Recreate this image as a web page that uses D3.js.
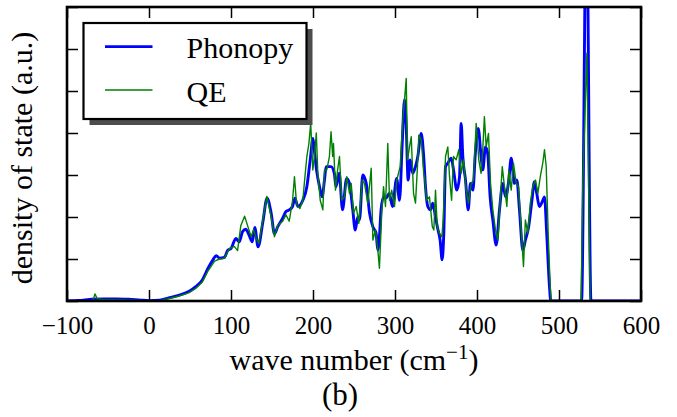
<!DOCTYPE html>
<html>
<head>
<meta charset="utf-8">
<script src="https://cdn.jsdelivr.net/npm/d3@7"></script>
<style>
  html, body { margin: 0; padding: 0; background: #ffffff; }
  svg { display: block; }
  text { font-family: "Liberation Serif", "Times New Roman", serif; fill: #000; }
</style>
</head>
<body>
<svg id="chart" width="677" height="417"></svg>
<script>
// ---- data (wave number in cm^-1, density of state in arbitrary units) ----
const phonopyFreq = [-100,-90,-80,-70,-55,-40,-25,-10,0,13,25,37,49,57,65,72,78,82,86,92,96,100,106,110,114,118,122,126,129,133,139,144,149,153,157,163,167,171,175,178,181.5,187.6,192.5,196.6,200,202,204.6,208,211,214,216,222,226,228,232,236,241,244.5,248.5,251.5,254.6,256.7,260.7,264.9,269,273,277,279,281,283,286,289,293,297,302,305.5,308.8,311.6,313.7,316,318.6,321.6,325,327.8,332,335,337.2,340,343.3,346,349.4,352,355,357.5,359.5,361.6,364.4,368.5,371.7,375.4,378.7,380.7,382.7,386,389.3,392,395,398,401.5,405,407,410.4,413,416,419.3,423.4,427.4,431.5,434.8,438.8,441.7,445.7,448.6,451.8,455.9,459,463,467,470,472.9,476,479.5,482.3,485,488.4,490,527.5,533.5,539,545,600];
const phonopyDos  = [0,0.01,0.02,0.04,0.05,0.05,0.04,0.02,0.01,0.02,0.08,0.14,0.23,0.34,0.5,0.78,0.98,1.08,1.02,1.04,1.21,1.25,1.49,1.41,1.65,1.71,1.57,1.41,1.75,1.29,1.9,2.45,2.09,1.6,1.77,1.97,2.13,2.17,2.25,2.45,2.25,2.4,2.72,3.36,3.87,3.52,3.08,2.72,2.48,2.88,3.2,3.2,3.04,2.72,3.04,2.17,2.92,2.8,2.17,1.69,2.0,1.93,3.0,2.8,2.09,1.77,1.61,1.21,1.53,2.17,2.48,2.45,2.56,2.25,2.92,2.4,3.75,4.79,4.15,2.88,3.36,3.04,3.2,3.44,3.99,3.44,2.72,2.25,2.17,2.33,2.0,1.73,1.45,0.98,1.61,3.2,3.28,3.4,3.08,2.64,2.96,4.23,3.44,2.88,2.17,2.8,2.64,3.52,4.11,3.44,3.12,3.67,3.52,2.48,1.93,1.33,2.17,2.8,2.48,2.88,3.4,2.8,2.88,2.17,1.21,1.45,1.77,2.4,2.84,2.56,2.25,2.36,2.48,1.61,0.34,0,0,9.5,0,0,0];

const qeFreq = [-100,-72,-68,-66,-63,-55,-40,-20,0,13,25,37,49,57,65,72,80,86,92,98,104,108,112,116.6,120.6,124.6,127.5,130.7,134,138.8,143.7,149,153,157,163,167,171,175,177.4,180,184,187.6,189.6,192.5,195,197.2,199.8,201.8,204,205.9,208.8,212,214,216.8,220,222,224,225,227.4,230,232.3,235,238.4,241.2,244.5,246.6,249.4,252.7,255.9,260,262.8,266.8,271,273,276.2,278.7,281,284,286,288.4,291.2,293.3,296,299.4,302.2,306.3,309.5,311.6,313.7,315.2,317.7,319.8,322.6,325,327.8,329,332,333,335,336,338.5,342,345.5,347.4,349.4,351.5,354.3,357.2,359,361.6,364.4,366.5,369,371.3,374.6,377.8,380.7,383.5,386.8,389.6,392.9,395.7,399,402.2,405,407,409,411.2,414,416.5,419.3,422.6,425.4,428.3,430.8,433.5,436.4,438.8,441.7,444.5,447.8,450.6,453.9,456.7,459,462,465,468,471.4,474.2,477.2,480.2,482.3,484.4,486.8,489.3,490.5,527,529,534,538,600];
const qeDos  = [0,0,0.02,0.17,0.05,0.03,0.03,0.02,0,0.01,0.06,0.12,0.2,0.3,0.45,0.72,0.95,1.0,1.02,1.25,1.3,1.2,1.8,2.02,1.77,1.53,1.7,1.5,1.37,1.93,2.49,2.0,1.53,1.8,1.9,2.05,1.9,2.38,2.96,2.3,2.2,2.4,2.84,3.44,3.75,4.23,3.12,3.44,4.0,3.04,2.4,2.17,3.12,3.12,3.44,4.03,3.44,3.75,2.64,3.12,3.44,2.4,2.48,2.96,2.56,2.8,2.09,2.25,1.85,2.88,2.8,2.33,3.16,1.45,1.69,1.29,0.78,2.17,2.72,2.25,3.75,2.4,2.64,2.25,2.88,3.2,4.31,4.79,5.3,3.36,3.67,3.91,2.56,2.33,3.36,3.95,3.83,3.6,3.04,2.96,2.4,2.48,1.77,1.69,2.64,1.77,1.61,1.53,2.0,3.44,3.67,2.96,2.4,3.44,3.36,3.6,3.04,3.36,2.64,2.33,2.8,2.88,4.23,3.36,3.04,3.6,4.39,3.67,3.99,2.8,2.17,1.69,1.45,2.4,3.2,2.72,2.25,3.12,2.64,3.28,2.8,2.72,1.69,0.82,1.93,1.61,2.33,2.72,2.88,2.56,2.96,3.28,3.6,3.2,1.61,0.34,0,0,2.8,5.9,0,0];

const xTicks = [-100, 0, 100, 200, 300, 400, 500, 600];
const yTicks = [0, 1, 2, 3, 4, 5, 6, 7];
const seriesNames = ["Phonopy", "QE"];
const seriesColors = ["#0000ff", "#008000"];

// ---- layout ----
const L = 67, R = 641, T = 7, B = 301;
const svg = d3.select("#chart");

const x = d3.scaleLinear().domain([-100, 600]).range([L, R]);
const y = d3.scaleLinear().domain([0, 7]).range([B, T]);

svg.append("defs").append("clipPath").attr("id", "plotclip")
  .append("rect").attr("x", L).attr("y", T).attr("width", R - L).attr("height", B - T);

const phonopy = phonopyFreq.map((f, i) => [f, phonopyDos[i]]);
const qe = qeFreq.map((f, i) => [f, qeDos[i]]);

const lineSmooth = d3.line().x(d => x(d[0])).y(d => y(d[1])).curve(d3.curveMonotoneX);
const lineRaw = d3.line().x(d => x(d[0])).y(d => y(d[1]));

const plot = svg.append("g").attr("clip-path", "url(#plotclip)");
plot.append("path").datum(phonopy).attr("d", lineSmooth)
  .attr("fill", "none").attr("stroke", seriesColors[0]).attr("stroke-width", 2.9)
  .attr("stroke-linejoin", "round");
plot.append("path").datum(qe).attr("d", lineRaw)
  .attr("fill", "none").attr("stroke", seriesColors[1]).attr("stroke-width", 1.4)
  .attr("stroke-linejoin", "round");

// ---- axes (inward ticks on all four sides) ----
const tickLen = 11;
const xb = svg.append("g").attr("transform", `translate(0,${B})`)
  .call(d3.axisBottom(x).tickValues(xTicks).tickSizeInner(-tickLen).tickSizeOuter(0).tickPadding(15).tickFormat(d3.format("d")));
const xt = svg.append("g").attr("transform", `translate(0,${T})`)
  .call(d3.axisTop(x).tickValues(xTicks).tickSizeInner(-tickLen).tickSizeOuter(0).tickFormat(""));
const yl = svg.append("g").attr("transform", `translate(${L},0)`)
  .call(d3.axisLeft(y).tickValues(yTicks).tickSizeInner(-tickLen).tickSizeOuter(0).tickFormat(""));
const yr = svg.append("g").attr("transform", `translate(${R},0)`)
  .call(d3.axisRight(y).tickValues(yTicks).tickSizeInner(-tickLen).tickSizeOuter(0).tickFormat(""));

[xb, xt, yl, yr].forEach(g => {
  g.select(".domain").remove();
  g.selectAll(".tick line").attr("stroke", "#000").attr("stroke-width", 1.5);
});
xb.selectAll(".tick text")
  .attr("font-family", '"Liberation Serif", serif').attr("font-size", 25).attr("fill", "#000");

// frame
svg.append("rect").attr("x", L).attr("y", T).attr("width", R - L).attr("height", B - T)
  .attr("fill", "none").attr("stroke", "#000").attr("stroke-width", 2.6);

// axis labels
const xl = svg.append("text").attr("x", (L + R) / 2).attr("y", 370)
  .attr("text-anchor", "middle").attr("font-size", 30);
xl.append("tspan").text("wave number (cm");
xl.append("tspan").attr("font-size", 21).attr("dy", -11).text("−1");
xl.append("tspan").attr("dy", 11).text(")");

svg.append("text").attr("transform", `translate(32,158) rotate(-90)`)
  .attr("text-anchor", "middle").attr("font-size", 30).text("density of state (a.u.)");

svg.append("text").attr("x", 340).attr("y", 405).attr("text-anchor", "middle")
  .attr("font-size", 31).text("(b)");

// ---- legend ----
const lg = { x: 83.5, y: 23, w: 223, h: 96 };
svg.append("rect").attr("x", lg.x + 6).attr("y", lg.y + 6).attr("width", lg.w).attr("height", lg.h)
  .attr("fill", "#4d4d4d");
svg.append("rect").attr("x", lg.x).attr("y", lg.y).attr("width", lg.w).attr("height", lg.h)
  .attr("fill", "#fff").attr("stroke", "#000").attr("stroke-width", 2.2);
const rowsY = [46.7, 90];
const textY = [58.3, 101.5];
const widths = [2.8, 1.4];
seriesNames.forEach((name, i) => {
  svg.append("line").attr("x1", 105).attr("x2", 152.5).attr("y1", rowsY[i]).attr("y2", rowsY[i])
    .attr("stroke", seriesColors[i]).attr("stroke-width", widths[i]);
  svg.append("text").attr("x", 186.5).attr("y", textY[i]).attr("font-size", 30).text(name);
});
</script>
</body>
</html>
